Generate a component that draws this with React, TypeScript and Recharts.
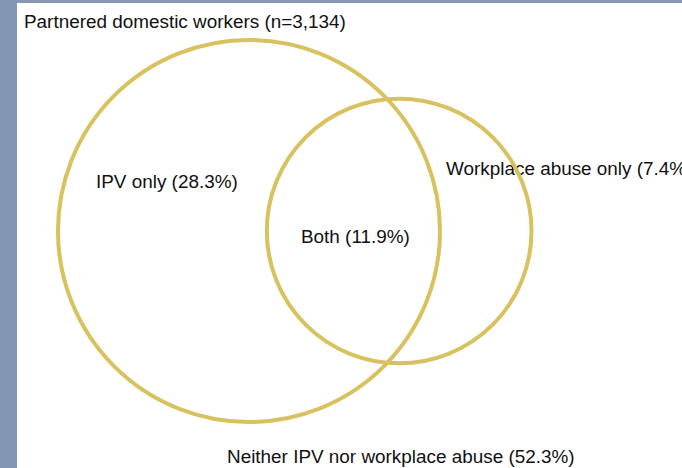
import React from 'react';
import { Scatter, ScatterChart, XAxis, YAxis, ZAxis } from 'recharts';

// shares of partnered domestic workers (%)
const setNames = ['IPV', 'Workplace abuse'];
const onlyShares = [28.3, 7.4];
const bothShare = 11.9;
const neitherShare = 52.3;
const sampleSize = '3,134';

const PX_PER_UNIT = 53.4;
const CHART_W = 665;
const CHART_H = 465;
const CENTER_LEFT = 232;
const CENTER_TOP = 228;

// lens area of two circles with radii r1, r2 whose centres are d apart
function lensArea(r1: number, r2: number, d: number) {
  if (d >= r1 + r2) return 0;
  if (d <= Math.abs(r1 - r2)) return Math.PI * Math.min(r1, r2) ** 2;
  const a1 = Math.acos((d * d + r1 * r1 - r2 * r2) / (2 * d * r1));
  const a2 = Math.acos((d * d + r2 * r2 - r1 * r1) / (2 * d * r2));
  const k = Math.sqrt((-d + r1 + r2) * (d + r1 - r2) * (d - r1 + r2) * (d + r1 + r2));
  return r1 * r1 * a1 + r2 * r2 * a2 - 0.5 * k;
}

const totals = onlyShares.map((v) => v + bothShare);
const radii = totals.map((t) => Math.sqrt(t / Math.PI));

// find the centre distance that gives the overlap area
let lo = Math.abs(radii[0] - radii[1]);
let hi = radii[0] + radii[1];
for (let i = 0; i < 60; i++) {
  const mid = (lo + hi) / 2;
  if (lensArea(radii[0], radii[1], mid) > bothShare) lo = mid;
  else hi = mid;
}
const distance = (lo + hi) / 2;

const circles = setNames.map((name, i) => ({
  name,
  x: i === 0 ? 0 : distance,
  y: 0,
  area: totals[i],
}));

const xDomain = [-CENTER_LEFT / PX_PER_UNIT, (CHART_W - CENTER_LEFT) / PX_PER_UNIT];
const yDomain = [(CENTER_TOP - CHART_H) / PX_PER_UNIT, CENTER_TOP / PX_PER_UNIT];

const font = { fontFamily: '"Liberation Sans", Arial, sans-serif', fontSize: 18.9, fill: '#111' };

const Ring = (props: any) => {
  const { cx, cy, width } = props;
  return <circle cx={cx} cy={cy} r={width / 2} fill="none" stroke="#d8c25f" strokeWidth={4} />;
};

export default function App() {
  return (
    <div
      style={{
        position: 'fixed',
        left: 0,
        top: 0,
        width: 682,
        height: 468,
        background: '#8397b2',
      }}
    >
      <div style={{ position: 'absolute', left: 17, top: 3, width: CHART_W, height: CHART_H, background: '#fff', overflow: 'hidden' }}>
        <ScatterChart width={CHART_W} height={CHART_H} margin={{ top: 0, right: 0, bottom: 0, left: 0 }}>
          <XAxis type="number" dataKey="x" domain={xDomain} hide allowDataOverflow />
          <YAxis type="number" dataKey="y" domain={yDomain} hide allowDataOverflow />
          <ZAxis type="number" dataKey="area" domain={[0, 100]} range={[0, 100 * PX_PER_UNIT * PX_PER_UNIT]} />
          <Scatter data={circles} shape={Ring} isAnimationActive={false} />
          <text x={7} y={25} {...font}>{`Partnered domestic workers (n=${sampleSize})`}</text>
          <text x={79} y={185} {...font}>{`${setNames[0]} only (${onlyShares[0]}%)`}</text>
          <text x={429} y={172} {...font}>{`${setNames[1]} only (${onlyShares[1]}%)`}</text>
          <text x={284} y={240} {...font}>{`Both (${bothShare}%)`}</text>
          <text x={210} y={460} {...font}>{`Neither IPV nor workplace abuse (${neitherShare}%)`}</text>
        </ScatterChart>
      </div>
    </div>
  );
}
